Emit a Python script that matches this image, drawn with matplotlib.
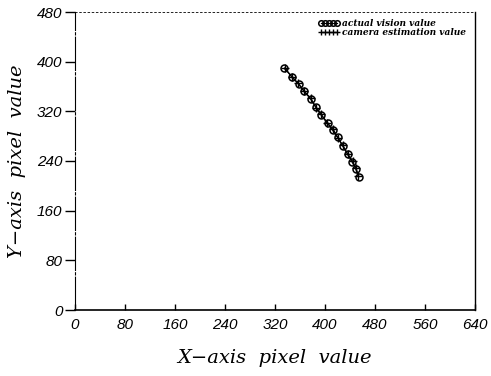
import matplotlib
matplotlib.use("Agg")
import matplotlib.pyplot as plt

# pixel coordinates of the tracked object
actual_x = [335, 347, 358, 366, 377, 385, 394, 404, 412, 420, 429, 436, 443, 450, 454]
actual_y = [389, 376, 364, 353, 340, 327, 314, 302, 290, 278, 264, 252, 239, 227, 215]
camera_x = [336, 347, 357, 367, 377, 386, 394, 403, 413, 421, 428, 436, 444, 449, 453]
camera_y = [390, 375, 365, 352, 341, 326, 315, 301, 291, 277, 265, 251, 240, 228, 216]

x_ticks = [0, 80, 160, 240, 320, 400, 480, 560, 640]
y_ticks = [0, 80, 160, 240, 320, 400, 480]

fig = plt.figure(figsize=(4.91, 3.76), dpi=100)
ax = fig.add_axes([75 / 491, 66 / 376, 400 / 491, 298 / 376])

ax.plot(actual_x, actual_y, color="black", lw=0.9, marker="o", ms=5,
        mfc="none", mec="black", mew=1.1, label="actual vision value")
ax.plot(camera_x, camera_y, color="black", lw=0.9, marker="+", ms=5.5,
        mew=1.0, label="camera estimation value")

ax.set_xlim(0, 640)
ax.set_ylim(0, 480)
ax.set_xticks(x_ticks)
ax.set_yticks(y_ticks)

tick_font = dict(family="Liberation Sans", style="italic", size=11)
ax.set_xticklabels([str(v) for v in x_ticks], **tick_font)
ax.set_yticklabels([str(v) for v in y_ticks], **tick_font)
ax.tick_params(axis="x", direction="in", length=4, width=1, pad=6)
ax.tick_params(axis="y", direction="out", length=7, width=1, pad=2)

ax.spines["top"].set_linestyle((0, (2, 3)))
ax.spines["top"].set_linewidth(0.6)
ax.spines["left"].set_linewidth(0.8)
ax.spines["left"].set_linestyle((0, (30, 2, 2, 2)))
ax.spines["bottom"].set_linewidth(1.2)
ax.spines["right"].set_linewidth(1.0)

label_font = dict(family="DejaVu Serif", style="italic", size=14)
ax.set_xlabel("X\u2212axis  pixel  value", labelpad=12, **label_font)
ax.set_ylabel("Y\u2212axis  pixel  value", labelpad=8, **label_font)

leg = ax.legend(loc="upper right", bbox_to_anchor=(0.99, 0.995), frameon=False,
                numpoints=5, markerscale=0.8, handlelength=2.4, handletextpad=0.2,
                labelspacing=0.0, borderaxespad=0.2,
                prop=dict(family="DejaVu Serif", style="italic", weight="bold", size=6.5))

fig.savefig("out.png", dpi=100)
